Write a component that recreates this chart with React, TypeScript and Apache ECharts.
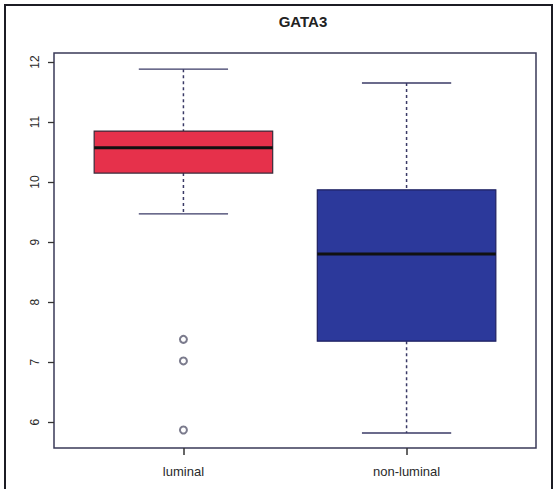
import React, { useEffect, useRef } from 'react';
import * as echarts from 'echarts';

const title = 'GATA3';
const categories = ['luminal', 'non-luminal'];
const lowerWhisker = [9.47, 5.82];
const q1 = [10.15, 7.35];
const median = [10.57, 8.8];
const q3 = [10.85, 9.87];
const upperWhisker = [11.88, 11.65];
// [category index, value]
const outlierCategory = [0, 0, 0];
const outlierValue = [7.38, 7.02, 5.87];
const yTicks = [6, 7, 8, 9, 10, 11, 12];

const FONT = "'Liberation Sans', Arial, Helvetica, sans-serif";
const boxFills = ['#e6314b', '#2c399b'];
const boxBorders = ['#3a2a3a', '#1e2060'];

export default function App() {
  const ref = useRef<HTMLDivElement>(null);

  useEffect(() => {
    if (!ref.current) return;
    const chart = echarts.init(ref.current, null, { renderer: 'svg' });

    const boxData = categories.map((c, i) => [
      i + 1,
      lowerWhisker[i],
      q1[i],
      median[i],
      q3[i],
      upperWhisker[i],
    ]);
    const outlierData = outlierValue.map((v, k) => [outlierCategory[k] + 1, v]);

    const option: any = {
      animation: false,
      backgroundColor: '#ffffff',
      title: {
        text: title,
        left: 298,
        top: 9,
        textAlign: 'center',
        textStyle: { fontFamily: FONT, fontSize: 15, fontWeight: 'bold', color: '#222' },
      },
      grid: {
        left: 54,
        top: 53,
        width: 482,
        height: 395,
        show: true,
        borderColor: '#3a3a58',
        borderWidth: 1.5,
        backgroundColor: 'transparent',
      },
      xAxis: {
        type: 'value',
        min: 0.42,
        max: 2.58,
        splitLine: { show: false },
        axisLine: { show: false },
        axisTick: {
          show: true,
          customValues: categories.map((c, i) => i + 1),
          length: 7,
          lineStyle: { color: '#333', width: 1.5 },
        },
        axisLabel: {
          customValues: categories.map((c, i) => i + 1),
          formatter: (v: number) => categories[Math.round(v) - 1] ?? '',
          margin: 17,
          fontFamily: FONT,
          fontSize: 13,
          color: '#2a2a2a',
        },
      },
      yAxis: {
        type: 'value',
        min: 5.57,
        max: 12.15,
        splitLine: { show: false },
        axisLine: { show: false },
        axisTick: {
          show: true,
          customValues: yTicks,
          length: 6,
          lineStyle: { color: '#333', width: 1.3 },
        },
        axisLabel: {
          customValues: yTicks,
          rotate: 90,
          margin: 13,
          fontFamily: FONT,
          fontSize: 12,
          color: '#2a2a2a',
        },
      },
      graphic: [
        {
          type: 'rect',
          silent: true,
          shape: { x: 5, y: 5, width: 547, height: 500 },
          style: { fill: 'none', stroke: '#1c1c24', lineWidth: 2 },
        },
      ],
      series: [
        {
          type: 'custom',
          data: boxData,
          encode: { x: 0, y: [1, 2, 3, 4, 5] },
          renderItem: (params: any, api: any) => {
            const i = params.dataIndex;
            const x = api.value(0);
            const pLow = api.coord([x, api.value(1)]);
            const pQ1 = api.coord([x, api.value(2)]);
            const pMed = api.coord([x, api.value(3)]);
            const pQ3 = api.coord([x, api.value(4)]);
            const pHigh = api.coord([x, api.value(5)]);
            const cx = pMed[0];
            const halfBox = api.size([0.8, 0])[0] / 2;
            const halfCap = api.size([0.4, 0])[0] / 2;
            const wStyle = { stroke: '#3a3a66', lineWidth: 1.5, lineDash: [3, 3] };
            const cStyle = { stroke: '#3a3a66', lineWidth: 1.3 };
            return {
              type: 'group',
              children: [
                {
                  type: 'line',
                  shape: { x1: cx, y1: pHigh[1], x2: cx, y2: pQ3[1] },
                  style: wStyle,
                },
                {
                  type: 'line',
                  shape: { x1: cx, y1: pQ1[1], x2: cx, y2: pLow[1] },
                  style: wStyle,
                },
                {
                  type: 'line',
                  shape: { x1: cx - halfCap, y1: pHigh[1], x2: cx + halfCap, y2: pHigh[1] },
                  style: cStyle,
                },
                {
                  type: 'line',
                  shape: { x1: cx - halfCap, y1: pLow[1], x2: cx + halfCap, y2: pLow[1] },
                  style: cStyle,
                },
                {
                  type: 'rect',
                  shape: {
                    x: cx - halfBox,
                    y: pQ3[1],
                    width: halfBox * 2,
                    height: pQ1[1] - pQ3[1],
                  },
                  style: { fill: boxFills[i], stroke: boxBorders[i], lineWidth: 1.2 },
                },
                {
                  type: 'line',
                  shape: { x1: cx - halfBox, y1: pMed[1], x2: cx + halfBox, y2: pMed[1] },
                  style: { stroke: '#111', lineWidth: 3 },
                },
              ],
            };
          },
        },
        {
          type: 'scatter',
          data: outlierData,
          symbol: 'emptyCircle',
          symbolSize: 7,
          itemStyle: { color: '#5a5a70', borderWidth: 1 },
        },
      ],
    };

    chart.setOption(option);
    return () => chart.dispose();
  }, []);

  return (
    <div
      ref={ref}
      style={{ position: 'fixed', left: 0, top: 0, width: 558, height: 489 }}
    />
  );
}
